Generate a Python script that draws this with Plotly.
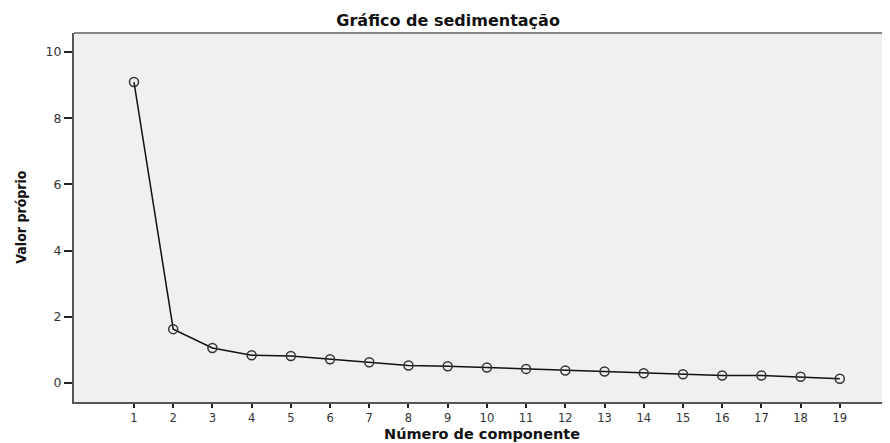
import plotly.graph_objects as go

components = list(range(1, 20))
eigenvalues = [9.09, 1.63, 1.06, 0.84, 0.82, 0.72, 0.63, 0.53, 0.51, 0.47,
               0.43, 0.38, 0.35, 0.30, 0.27, 0.23, 0.23, 0.19, 0.13]
y_ticks = [0, 2, 4, 6, 8, 10]

title_text = "Gráfico de sedimentação"
x_title = "Número de componente"
y_title = "Valor próprio"

fig = go.Figure()
fig.add_trace(go.Scatter(
    x=components, y=eigenvalues, mode="lines+markers",
    line=dict(color="#111111", width=1.5),
    marker=dict(symbol="circle-open", size=9, color="#333333", line=dict(width=1.5)),
    showlegend=False,
))

# page body has an 8px margin; figure sized to fit the 890x443 window
fig.update_layout(
    width=882, height=435,
    margin=dict(l=66, r=0, t=25, b=41),
    paper_bgcolor="white",
    plot_bgcolor="#f0f0f0",
    title=dict(text="<b>" + title_text + "</b>", x=0.499, xanchor="center",
               xref="container", y=0.972, yanchor="middle",
               font=dict(family="DejaVu Sans, sans-serif", size=16, color="#111111")),
    font=dict(family="DejaVu Sans, sans-serif", size=11, color="#333333"),
)

fig.update_xaxes(
    range=[-0.53, 20.28], tickmode="array", tickvals=components,
    ticks="outside", ticklen=4, tickwidth=1.5, tickcolor="#222222",
    showline=True, linecolor="#555555", linewidth=2,
    showgrid=False, zeroline=False, automargin=False,
    tickfont=dict(family="DejaVu Sans, sans-serif", size=11.5, color="#333333"),
)
fig.update_yaxes(
    range=[-0.57, 10.57], tickmode="array", tickvals=y_ticks,
    ticks="outside", ticklen=8, tickwidth=1.5, tickcolor="#222222",
    showline=True, linecolor="#555555", linewidth=2,
    showgrid=False, zeroline=False, automargin=False,
    tickfont=dict(family="DejaVu Sans, sans-serif", size=12.5, color="#333333"),
)

fig.add_annotation(text="<b>" + x_title + "</b>", xref="paper", yref="paper",
                   x=0.5, y=-0.087, xanchor="center", yanchor="middle", showarrow=False,
                   font=dict(family="DejaVu Sans, sans-serif", size=14.5, color="#111111"))
fig.add_annotation(text="<b>" + y_title + "</b>", xref="paper", yref="paper",
                   x=-0.066, y=0.5, xanchor="center", yanchor="middle", showarrow=False,
                   textangle=-90,
                   font=dict(family="DejaVu Sans Condensed, Liberation Sans Narrow, DejaVu Sans, sans-serif",
                             size=14, color="#111111"))

fig.add_shape(type="line", xref="paper", yref="paper", x0=0, x1=1, y0=1, y1=1,
              line=dict(color="#888888", width=2))

fig.write_html("out.html")
